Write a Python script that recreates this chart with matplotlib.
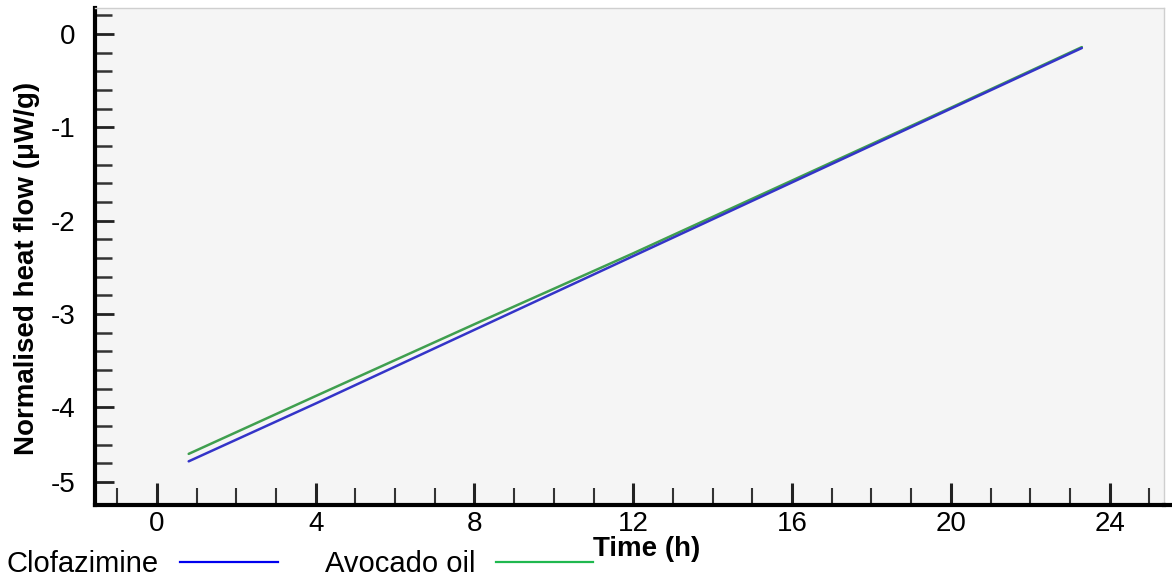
import matplotlib
matplotlib.use("Agg")
import matplotlib.pyplot as plt
from matplotlib.lines import Line2D
from matplotlib.ticker import FixedLocator, MultipleLocator

plt.rcParams['font.family'] = ['Liberation Sans', 'DejaVu Sans']

# Heat-flow traces (hours, µW/g)
time_h = [0.8, 4, 8, 12, 16, 20, 23.3]
clofazimine = [-4.58, -3.96, -3.17, -2.38, -1.59, -0.80, -0.15]
avocado_oil = [-4.50, -3.88, -3.11, -2.35, -1.57, -0.79, -0.14]

x_major = [0, 4, 8, 12, 16, 20, 24]
y_major = [0, -1, -2, -3, -4, -4.8]
y_major_labels = ['0', '-1', '-2', '-3', '-4', '-5']
series_names = ['Clofazimine', 'Avocado oil']

W, H = 1172, 579
fig = plt.figure(figsize=(W / 100, H / 100), dpi=100)
fig.patch.set_facecolor('white')

left, right, bottom, top = 95, 1164, 74, 571
ax = fig.add_axes([left / W, bottom / H, (right - left) / W, (top - bottom) / H])
ax.set_facecolor('#f5f5f5')

ax.plot(time_h, avocado_oil, color='#3f9f4f', lw=1.8, solid_capstyle='round')
ax.plot(time_h, clofazimine, color='#3434c8', lw=1.8, solid_capstyle='round')

ax.set_xlim(-1.56, 25.37)
ax.set_ylim(-5.048, 0.279)

ax.xaxis.set_major_locator(FixedLocator(x_major))
ax.xaxis.set_minor_locator(MultipleLocator(1))
ax.set_xticklabels([str(v) for v in x_major])
ax.yaxis.set_major_locator(FixedLocator(y_major))
ax.yaxis.set_minor_locator(FixedLocator([0.2 - 0.2 * i for i in range(25)]))
ax.set_yticklabels(y_major_labels)

ax.tick_params(axis='x', which='major', direction='in', length=16, width=2.2,
               color='#222222', labelsize=20, pad=4)
ax.tick_params(axis='x', which='minor', direction='in', length=12, width=1.5,
               color='#333333')
ax.tick_params(axis='y', which='major', direction='in', length=14, width=2.0,
               color='#222222', labelsize=20, pad=14)
ax.tick_params(axis='y', which='minor', direction='in', length=12, width=1.8,
               color='#333333')

for side in ('left', 'bottom'):
    ax.spines[side].set_linewidth(3.0)
    ax.spines[side].set_color('black')
for side in ('top', 'right'):
    ax.spines[side].set_linewidth(1.0)
    ax.spines[side].set_color('#cfcfcf')

# extend the bottom axis line to the figure edge
fig.add_artist(Line2D([right / W, 1.0], [bottom / H, bottom / H],
                      color='black', lw=3.0, transform=fig.transFigure))

fig.text(27 / W, 0.537, 'Normalised heat flow (μW/g)', rotation=90,
         fontsize=20, fontweight='bold', ha='center', va='center')
fig.text(647 / W, (H - 556) / H, 'Time (h)', fontsize=20, fontweight='bold',
         ha='center', va='baseline')

# legend row under the axis
fig.text(7 / W, (H - 572) / H, series_names[0], fontsize=21, ha='left', va='baseline')
fig.add_artist(Line2D([180 / W, 278 / W], [(H - 562) / H] * 2, color='#0000ee',
                      lw=1.6, transform=fig.transFigure))
fig.text(325 / W, (H - 572) / H, series_names[1], fontsize=21, ha='left', va='baseline')
fig.add_artist(Line2D([496 / W, 593 / W], [(H - 562) / H] * 2, color='#1fb84f',
                      lw=1.6, transform=fig.transFigure))

fig.savefig('out.png', dpi=100)
